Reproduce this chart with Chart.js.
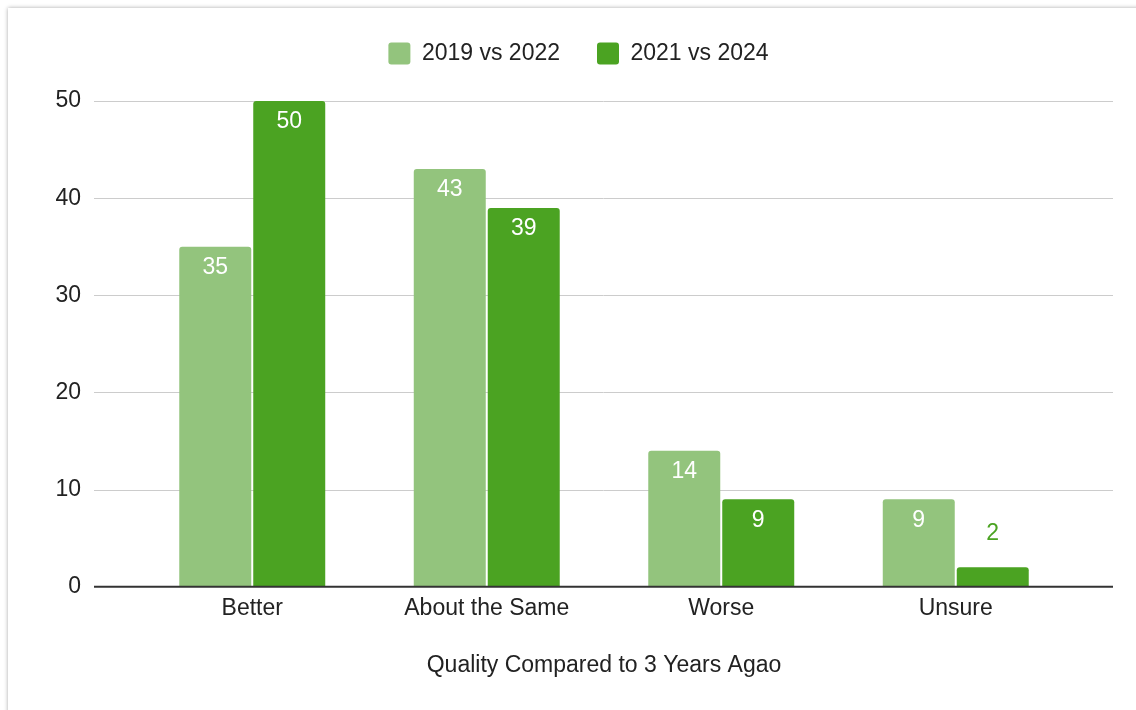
<!DOCTYPE html>
<html lang="en">
<head>
    <meta charset="UTF-8">
    <title>Quality Compared to 3 Years Agao</title>
    <script src="https://cdn.jsdelivr.net/npm/chart.js"></script>
    <style>
    body {
        margin: 0;
        background: #fff;
        overflow: hidden;
    }
    .card {
        position: absolute;
        left: 8px;
        top: 8px;
        width: 1200px;
        height: 800px;
        background: #fff;
        box-shadow: 0 0 4px rgba(0, 0, 0, 0.35);
    }
    .wrap {
        position: absolute;
        left: 0;
        top: 0;
        width: 1136px;
        height: 710px;
    }
</style>
</head>
<body>
    <div class="card"></div>
    <div class="wrap"><canvas id="qualityChart" width="1136" height="710"></canvas></div>

    <script>
        const categories = ['Better', 'About the Same', 'Worse', 'Unsure'];
        const series2019vs2022 = [35, 43, 14, 9];
        const series2021vs2024 = [50, 39, 9, 2];
        const yTicks = [0, 10, 20, 30, 40, 50];

        const lightGreen = '#93c47d';
        const darkGreen = '#4ba322';
        const fontFamily = '"Liberation Sans", Arial, sans-serif';
        const fontSize = 23;

        // grid lines run a bit wider than the category area, like the sheets chart
        const wideGrid = {
            id: 'wideGrid',
            beforeDatasetsDraw(chart) {
                const ctx = chart.ctx;
                const area = chart.chartArea;
                const y = chart.scales.y;
                ctx.save();
                ctx.strokeStyle = '#cccccc';
                ctx.lineWidth = 1;
                yTicks.forEach(v => {
                    if (v === 0) return;
                    const py = Math.round(y.getPixelForValue(v)) + 0.5;
                    ctx.beginPath();
                    ctx.moveTo(area.left - 41, py);
                    ctx.lineTo(area.right + 40, py);
                    ctx.stroke();
                });
                ctx.restore();
            },
            afterDatasetsDraw(chart) {
                const ctx = chart.ctx;
                const area = chart.chartArea;
                const py = chart.scales.y.getPixelForValue(0);
                ctx.save();
                ctx.strokeStyle = '#333333';
                ctx.lineWidth = 2;
                ctx.beginPath();
                ctx.moveTo(area.left - 41, py);
                ctx.lineTo(area.right + 40, py);
                ctx.stroke();
                ctx.restore();
            }
        };

        // value labels: inside the top of the bar, or above it when the bar is too short
        const barLabels = {
            id: 'barLabels',
            afterDatasetsDraw(chart) {
                const ctx = chart.ctx;
                ctx.save();
                ctx.font = fontSize + 'px ' + fontFamily;
                ctx.textAlign = 'center';
                ctx.textBaseline = 'middle';
                chart.data.datasets.forEach((ds, i) => {
                    chart.getDatasetMeta(i).data.forEach((bar, j) => {
                        const h = bar.base - bar.y;
                        if (h > 40) {
                            ctx.fillStyle = '#ffffff';
                            ctx.fillText(ds.data[j], bar.x, bar.y + 21);
                        } else {
                            ctx.fillStyle = ds.backgroundColor;
                            ctx.fillText(ds.data[j], bar.x, bar.y - 34);
                        }
                    });
                });
                ctx.restore();
            }
        };

        // more room under the legend and shift it to the card's centre
        const legendSpace = {
            id: 'legendSpace',
            beforeInit(chart) {
                const fit = chart.legend.fit;
                chart.legend.fit = function () {
                    fit.call(this);
                    this.height += 26;
                };
            },
            afterLayout(chart) {
                chart.legend.left += 42;
                chart.legend.right += 42;
            }
        };

        const ctx = document.getElementById('qualityChart').getContext('2d');
        new Chart(ctx, {
            type: 'bar',
            data: {
                labels: categories,
                datasets: [{
                    label: '2019 vs 2022',
                    data: series2019vs2022,
                    backgroundColor: lightGreen,
                    borderRadius: { topLeft: 3, topRight: 3 },
                    borderSkipped: 'bottom'
                }, {
                    label: '2021 vs 2024',
                    data: series2021vs2024,
                    backgroundColor: darkGreen,
                    borderRadius: { topLeft: 3, topRight: 3 },
                    borderSkipped: 'bottom'
                }]
            },
            options: {
                responsive: false,
                animation: false,
                categoryPercentage: 0.631,
                barPercentage: 0.973,
                layout: {
                    padding: { left: 0, right: 63, top: 5, bottom: 31 }
                },
                scales: {
                    x: {
                        grid: { display: false, drawTicks: false },
                        border: { display: false },
                        ticks: {
                            padding: 8,
                            color: '#222',
                            font: { size: fontSize, family: fontFamily }
                        },
                        title: {
                            display: true,
                            text: 'Quality Compared to 3 Years Agao',
                            color: '#222',
                            font: { size: fontSize, family: fontFamily },
                            padding: { top: 21, bottom: 0 }
                        }
                    },
                    y: {
                        min: 0,
                        max: 50,
                        afterFit(scale) { scale.width = 135; },
                        afterBuildTicks(scale) { scale.ticks = yTicks.map(v => ({ value: v })); },
                        grid: { display: false, drawTicks: false },
                        border: { display: false },
                        ticks: {
                            padding: 54,
                            color: '#222',
                            font: { size: fontSize, family: fontFamily }
                        }
                    }
                },
                plugins: {
                    legend: {
                        position: 'top',
                        labels: {
                            boxWidth: 22,
                            boxHeight: 22,
                            useBorderRadius: true,
                            borderRadius: 3,
                            padding: 37,
                            color: '#222',
                            font: { size: fontSize, family: fontFamily }
                        }
                    },
                    tooltip: { enabled: false }
                }
            },
            plugins: [wideGrid, barLabels, legendSpace]
        });
    </script>
</body>
</html>
